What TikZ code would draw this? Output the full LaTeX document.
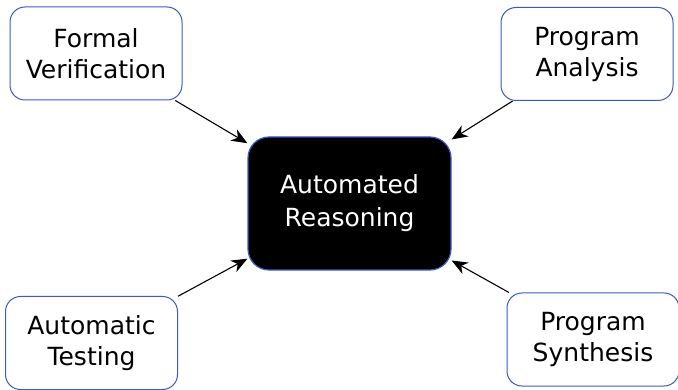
\documentclass[tikz,border=0pt]{standalone}
\usepackage{fontspec}
\setmainfont{DejaVu Sans}
\usetikzlibrary{arrows.meta}
\definecolor{edgeblue}{HTML}{3A5BC7}
\tikzset{
  topic/.style={draw=edgeblue, line width=1pt, fill=white, rounded corners=15pt,
    minimum width=172pt, minimum height=93pt, align=center, inner sep=0pt,
    font=\fontsize{25}{31}\selectfont},
  hub/.style={draw=edgeblue, line width=1.2pt, fill=black, text=white, rounded corners=21pt,
    minimum width=203pt, minimum height=133pt, align=center, inner sep=0pt,
    font=\fontsize{25}{33}\selectfont},
  feed/.style={-{Stealth[length=16pt,width=13pt,inset=5pt]}, line width=1.1pt, black}
}
\begin{document}
\begin{tikzpicture}[x=1pt,y=-1pt]
  \useasboundingbox (0,0) rectangle (678,390);
  \node[hub] (ar) at (349.5,203.5) {Automated\\Reasoning};
  \node[topic] (fv) at (96,53.5) {Formal\\Verification};
  \node[topic] (pa) at (587,54) {Program\\Analysis};
  \node[topic] (at) at (91.5,343) {Automatic\\Testing};
  \node[topic] (ps) at (593,339.5) {Program\\Synthesis};
  \draw[feed] (fv) -- (ar);
  \draw[feed] (pa) -- (ar);
  \draw[feed] (at) -- (ar);
  \draw[feed] (ps) -- (ar);
\end{tikzpicture}
\end{document}
